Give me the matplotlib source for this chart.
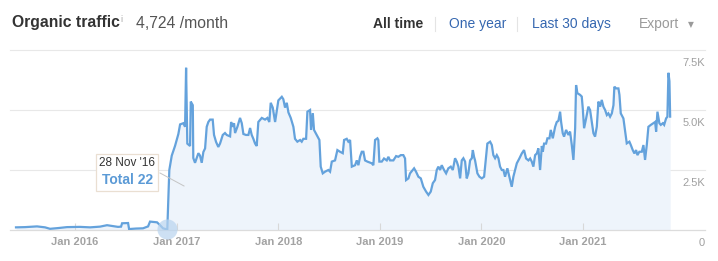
import matplotlib.pyplot as plt
from matplotlib.lines import Line2D
from matplotlib.patches import Rectangle

plt.rcParams["font.family"] = ["Liberation Sans", "DejaVu Sans"]

# decimal-year positions of the traced points and the organic traffic at each
years = [
    2015.419, 2015.508, 2015.626, 2015.705, 2015.754, 2015.833, 2015.921, 2016.049, 2016.148, 2016.246,
    2016.315, 2016.423, 2016.453, 2016.463, 2016.522, 2016.532, 2016.600, 2016.669, 2016.719, 2016.738,
    2016.807, 2016.837, 2016.866, 2016.908, 2016.928, 2016.952, 2016.984, 2017.017, 2017.034, 2017.066,
    2017.083, 2017.093, 2017.105, 2017.132, 2017.139, 2017.159, 2017.164, 2017.181, 2017.214, 2017.230,
    2017.247, 2017.263, 2017.280, 2017.296, 2017.312, 2017.329, 2017.355, 2017.368, 2017.388, 2017.410,
    2017.427, 2017.454, 2017.476, 2017.493, 2017.526, 2017.536, 2017.552, 2017.565, 2017.575, 2017.598,
    2017.624, 2017.641, 2017.657, 2017.683, 2017.706, 2017.723, 2017.739, 2017.755, 2017.772, 2017.788,
    2017.804, 2017.838, 2017.870, 2017.893, 2017.912, 2017.926, 2017.946, 2017.969, 2018.001, 2018.035,
    2018.050, 2018.067, 2018.084, 2018.100, 2018.123, 2018.149, 2018.165, 2018.188, 2018.215, 2018.231,
    2018.247, 2018.274, 2018.287, 2018.313, 2018.323, 2018.340, 2018.352, 2018.379, 2018.405, 2018.418,
    2018.438, 2018.461, 2018.493, 2018.510, 2018.527, 2018.559, 2018.582, 2018.608, 2018.635, 2018.648,
    2018.674, 2018.690, 2018.707, 2018.724, 2018.756, 2018.773, 2018.789, 2018.805, 2018.822, 2018.838,
    2018.854, 2018.877, 2018.920, 2018.936, 2018.953, 2018.976, 2018.985, 2018.995, 2019.019, 2019.041,
    2019.068, 2019.084, 2019.100, 2019.133, 2019.160, 2019.182, 2019.206, 2019.231, 2019.248, 2019.258,
    2019.281, 2019.297, 2019.324, 2019.337, 2019.356, 2019.379, 2019.403, 2019.428, 2019.455, 2019.478,
    2019.501, 2019.521, 2019.543, 2019.560, 2019.576, 2019.593, 2019.609, 2019.632, 2019.652, 2019.674,
    2019.698, 2019.718, 2019.740, 2019.757, 2019.773, 2019.790, 2019.806, 2019.822, 2019.839, 2019.855,
    2019.871, 2019.888, 2019.905, 2019.915, 2019.927, 2019.937, 2019.960, 2019.980, 2020.003, 2020.026,
    2020.045, 2020.058, 2020.085, 2020.102, 2020.117, 2020.134, 2020.151, 2020.167, 2020.183, 2020.200,
    2020.216, 2020.232, 2020.255, 2020.275, 2020.298, 2020.314, 2020.331, 2020.348, 2020.373, 2020.397,
    2020.419, 2020.439, 2020.462, 2020.479, 2020.495, 2020.511, 2020.528, 2020.545, 2020.560, 2020.577,
    2020.594, 2020.604, 2020.616, 2020.636, 2020.649, 2020.669, 2020.682, 2020.702, 2020.725, 2020.741,
    2020.757, 2020.774, 2020.784, 2020.800, 2020.813, 2020.833, 2020.856, 2020.872, 2020.889, 2020.905,
    2020.922, 2020.931, 2020.944, 2020.971, 2020.987, 2020.997, 2021.010, 2021.030, 2021.052, 2021.069,
    2021.086, 2021.102, 2021.118, 2021.135, 2021.151, 2021.168, 2021.184, 2021.200, 2021.217, 2021.234,
    2021.249, 2021.266, 2021.283, 2021.299, 2021.308, 2021.325, 2021.348, 2021.358, 2021.371, 2021.397,
    2021.414, 2021.430, 2021.456, 2021.470, 2021.489, 2021.505, 2021.522, 2021.535, 2021.554, 2021.578,
    2021.594, 2021.610, 2021.627, 2021.643, 2021.667, 2021.692, 2021.709, 2021.719, 2021.732, 2021.751,
    2021.765, 2021.785, 2021.798, 2021.817, 2021.830, 2021.840, 2021.850, 2021.857,
]
traffic = [
    110, 120, 150, 110, 50, 80, 120, 130, 110, 140,
    200, 130, 140, 280, 290, 40, 60, 70, 150, 350,
    320, 200, 70, 22, 2500, 3100, 3500, 4000, 4400, 4450,
    4300, 6760, 3600, 3500, 5350, 5200, 3000, 2800, 3200, 3100,
    2800, 3250, 3400, 4300, 4500, 4600, 4600, 3960, 3670, 3460,
    3600, 3960, 4040, 3960, 3900, 4500, 4300, 4450, 4040, 4300,
    4670, 4450, 4000, 3960, 3960, 4250, 3960, 3800, 3600, 3500,
    4500, 4670, 4600, 4670, 4500, 5300, 5100, 4500, 5400, 5550,
    5450, 5100, 5300, 4900, 4670, 4300, 3800, 3680, 3750, 3680,
    3800, 3800, 4930, 5000, 4170, 4870, 4170, 3960, 3750, 2640,
    2360, 2430, 2500, 2430, 2850, 2900, 3330, 3260, 3200, 3750,
    3800, 3680, 3750, 2640, 2700, 2900, 2700, 3050, 3260, 3260,
    2900, 2850, 2780, 2700, 3750, 3820, 3750, 2850, 2850, 2980,
    2900, 3050, 2900, 2900, 3080, 3050, 3120, 3120, 2980, 2080,
    2150, 2360, 2500, 2570, 2430, 2220, 2150, 1800, 1600, 1460,
    1600, 1950, 2080, 2500, 2640, 2500, 2700, 2500, 2360, 2570,
    2640, 2500, 2990, 2850, 2640, 2150, 2900, 2990, 2850, 2150,
    2360, 2900, 2990, 3330, 3050, 2900, 2360, 2220, 2150, 2220,
    3050, 3600, 3680, 3540, 3120, 2990, 3120, 2990, 2640, 2500,
    2500, 2220, 2570, 2220, 1800, 2220, 2500, 2780, 2980, 3190,
    3330, 2980, 2900, 2980, 2850, 2640, 3120, 3190, 3400, 2500,
    3500, 3260, 3600, 3600, 3820, 3820, 4170, 3820, 4300, 4500,
    4550, 4930, 4500, 4030, 3890, 4170, 3960, 4100, 3540, 2920,
    4240, 6040, 5700, 5630, 5560, 5070, 4240, 4650, 5140, 5000,
    4500, 4030, 3890, 4300, 5350, 5140, 5420, 5140, 5000, 4790,
    4860, 4720, 4860, 5200, 5970, 5900, 5900, 5630, 4860, 4650,
    4100, 3610, 3680, 3540, 3330, 3190, 3330, 3120, 3260, 3260,
    3540, 2920, 3540, 4300, 4380, 4450, 4500, 4100, 4930, 4450,
    4380, 4450, 4380, 4650, 4720, 6550, 6200, 4724,
]

x_ticks = [2016, 2017, 2018, 2019, 2020, 2021]
x_labels = ["Jan 2016", "Jan 2017", "Jan 2018", "Jan 2019", "Jan 2020", "Jan 2021"]
y_ticks = [0, 2500, 5000, 7500]
y_labels = ["0", "2.5K", "5.0K", "7.5K"]

hover_year = 2016.908
hover_value = 22

LINE = "#64a2dc"
FILL = "#eef4fb"
GRID = "#e8e8e8"
TICK = "#a3a3a3"

fig = plt.figure(figsize=(7.18, 2.61), dpi=100)
ax = fig.add_axes([10 / 718, 31 / 261, 695 / 718, 180 / 261])

ax.fill_between(years, traffic, 0, color=FILL, lw=0, zorder=1)
ax.plot(years, traffic, color=LINE, lw=1.6, solid_joinstyle="miter", zorder=3)

for v in y_ticks[1:]:
    ax.axhline(v, color=GRID, lw=0.8, zorder=0, clip_on=False)

ax.set_xlim(2015.36, 2022.20)
ax.set_ylim(0, 7500)

for side in ["top", "left", "right"]:
    ax.spines[side].set_visible(False)
ax.spines["bottom"].set_color("#dcdcdc")
ax.spines["bottom"].set_linewidth(0.9)

ax.set_xticks(x_ticks)
ax.set_xticklabels(x_labels, fontsize=8, color=TICK, fontweight="bold")
ax.tick_params(axis="x", direction="in", length=5, width=0.8, color="#d8d8d8", pad=5)
ax.set_yticks([])

# y labels sit inside the plot, right aligned, just below each gridline
for v, lab in zip(y_ticks, y_labels):
    ax.annotate(lab, xy=(1.0, v), xycoords=("axes fraction", "data"),
                xytext=(0, -9.4), textcoords="offset points",
                ha="right", va="center", fontsize=8, color="#a0a0a0",
                annotation_clip=False)

# hovered point
ax.scatter([hover_year], [hover_value], s=210, color="#b9d4ef", alpha=0.7,
           lw=0, zorder=4, clip_on=False)

# tooltip
fig.add_artist(Line2D([160 / 718, 184 / 718], [1 - 173 / 261, 1 - 186 / 261],
                      color="#c4c4c4", lw=0.7))
fig.add_artist(Rectangle((96 / 718, 1 - 191 / 261), 62 / 718, 37 / 261,
                         facecolor="white", edgecolor="#eadfd2", lw=0.9))
fig.text(127 / 718, 1 - 163 / 261, "28 Nov '16", ha="center", va="center",
         fontsize=8.5, color="#333333")
fig.text(127 / 718, 1 - 179.5 / 261, "Total 22", ha="center", va="center",
         fontsize=10, fontweight="bold", color="#5b9ad6")

# header
fig.text(12 / 718, 1 - 23 / 261, "Organic traffic", ha="left", va="center",
         fontsize=11.3, fontweight="bold", color="#333333")
fig.text(120 / 718, 1 - 19 / 261, "i", ha="left", va="center",
         fontsize=6.5, color="#aaaaaa")
fig.text(136 / 718, 1 - 23 / 261, "4,724 /month", ha="left", va="center",
         fontsize=11.3, color="#555555")

fig.text(373 / 718, 1 - 24 / 261, "All time", ha="left", va="center",
         fontsize=10, fontweight="bold", color="#333333")
fig.text(449 / 718, 1 - 24 / 261, "One year", ha="left", va="center",
         fontsize=10, color="#3567b0")
fig.text(532 / 718, 1 - 24 / 261, "Last 30 days", ha="left", va="center",
         fontsize=10, color="#3567b0")
fig.text(639 / 718, 1 - 24 / 261, "Export", ha="left", va="center",
         fontsize=10, color="#9a9a9a")
fig.text(691 / 718, 1 - 25 / 261, "\u25bc", ha="center", va="center",
         fontsize=5.5, color="#9a9a9a", family="DejaVu Sans")

for sx in [435, 517]:
    fig.add_artist(Line2D([sx / 718, sx / 718], [1 - 17 / 261, 1 - 31 / 261],
                          color="#e4e4e4", lw=0.8))

fig.savefig("out.png", dpi=100)
